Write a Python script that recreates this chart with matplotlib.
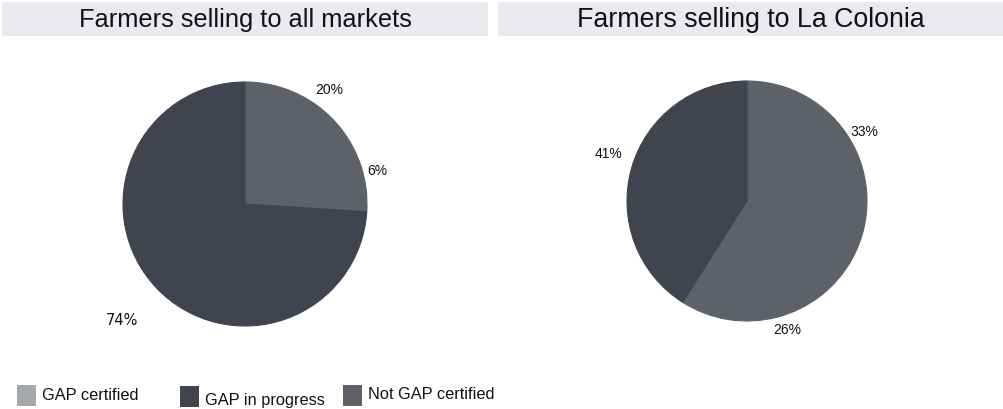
import matplotlib
matplotlib.use("Agg")
import matplotlib.pyplot as plt
import numpy as np
from matplotlib.patches import Rectangle

# ---- data ----
titles = ["Farmers selling to all markets", "Farmers selling to La Colonia"]
left_values = [20, 6, 74]
left_labels = ["20%", "6%", "74%"]
right_values = [33, 26, 41]
right_labels = ["33%", "26%", "41%"]
legend_labels = ["GAP certified", "GAP in progress", "Not GAP certified"]

# ---- style ----
C_LIGHT = "#a4a9ac"
C_DARK = "#41444f"
C_MID = "#5f6169"
BAR_BG = "#e9eaee"
W, H = 1004, 410

plt.rcParams['font.family'] = ['Liberation Sans', 'DejaVu Sans']
fig = plt.figure(figsize=(W / 100, H / 100), dpi=100)
fig.patch.set_facecolor("white")


def px_axes(x0, y0, x1, y1):
    return fig.add_axes([x0 / W, 1 - y1 / H, (x1 - x0) / W, (y1 - y0) / H])


# title bars
for (x0, x1, cx, fs), t in zip([(2, 488, 245, 18.3), (498, 1004, 751, 19.3)], titles):
    fig.patches.append(Rectangle((x0 / W, 1 - 37 / H), (x1 - x0) / W, 34 / H,
                                 transform=fig.transFigure, facecolor=BAR_BG,
                                 edgecolor="none", zorder=0))
    fig.text(cx / W, 1 - 20 / H, t, ha="center", va="center", fontsize=fs,
             color="#111111")


def draw_pie(ax, values, labels, colors, dists, fonts, sizes, offsets):
    wedges, _ = ax.pie(values, colors=colors, startangle=90, counterclock=False,
                       radius=1.0)
    for w, c in zip(wedges, colors):
        w.set_edgecolor(c)
        w.set_linewidth(0.8)
    for w, lab, d, f, s, off in zip(wedges, labels, dists, fonts, sizes, offsets):
        ang = np.deg2rad((w.theta1 + w.theta2) / 2 + off)
        ax.text(d * np.cos(ang), d * np.sin(ang), lab, ha="center", va="center",
                fontsize=s, family=f, color="#111111")
    ax.set_xlim(-1, 1)
    ax.set_ylim(-1, 1)
    ax.set_aspect("equal")
    ax.axis("off")


# left pie: center (245,205), r=122
axL = px_axes(123, 83, 367, 327)
draw_pie(axL, left_values, left_labels, [C_MID, C_MID, C_DARK],
         [1.17, 1.12, 1.38],
         [['Liberation Sans'], ['Liberation Sans'], ['DejaVu Sans']],
         [10, 10, 10.5], [0, 7, 0])

# right pie: center (747,202), r=120
axR = px_axes(627, 82, 867, 322)
draw_pie(axR, right_values, right_labels, [C_MID, C_MID, C_DARK],
         [1.14, 1.12, 1.22],
         [['Liberation Sans']] * 3, [10, 10, 10], [0, 3, -3])

# legend
leg_colors = [C_LIGHT, C_DARK, C_MID]
sq_x = [17, 180, 343]
sq_y = [386, 387, 386]
txt_base = [400, 405, 399]
for x, y, b, c, lab in zip(sq_x, sq_y, txt_base, leg_colors, legend_labels):
    fig.patches.append(Rectangle((x / W, 1 - (y + 21) / H), 19 / W, 21 / H,
                                 transform=fig.transFigure, facecolor=c,
                                 edgecolor="none"))
    fig.text((x + 25) / W, 1 - b / H, lab, ha="left", va="baseline",
             fontsize=11.8, color="#111111")

fig.savefig("out.png", dpi=100, facecolor="white")
